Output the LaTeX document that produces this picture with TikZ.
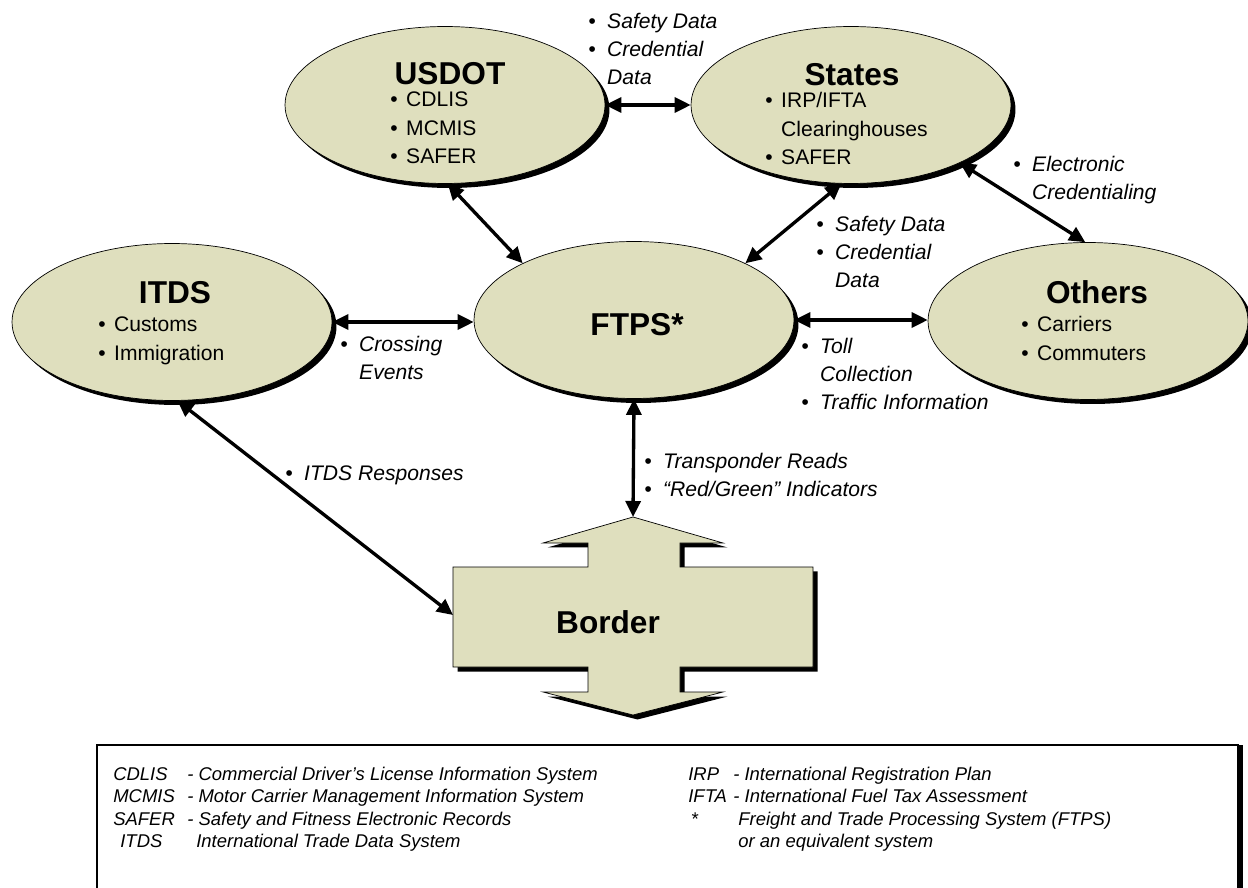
\documentclass[tikz,border=0pt]{standalone}
\usepackage{fontspec}
\setmainfont{Liberation Sans}
\usetikzlibrary{shapes.geometric,arrows.meta,shadows}
\definecolor{hubfill}{RGB}{223,223,190}

\begin{document}
\begin{tikzpicture}
    [ x=0.02cm, y=-0.02cm
    , hub/.style={ellipse, draw, fill=hubfill, minimum width=6.4cm, minimum height=3.14cm, inner sep=0pt,
        drop shadow={shadow xshift=0.9mm, shadow yshift=-0.9mm, fill=black, opacity=1}}
    , hubtitle/.style={font=\fontsize{18}{21}\selectfont\bfseries}
    , items/.style={anchor=base west, inner sep=0pt, font=\fontsize{12}{16.2}\selectfont}
    , note/.style={anchor=base west, inner sep=0pt, font=\fontsize{12}{15.9}\selectfont\itshape}
    , keytext/.style={anchor=base west, inner sep=0pt, font=\fontsize{10.5}{12.9}\selectfont\itshape}
    , link/.style={{Triangle[length=3.2mm,width=3mm]}-{Triangle[length=3.2mm,width=3mm]}, line width=1.9pt}
    ]
\useasboundingbox (0,0) rectangle (1248,888);

% the five systems
\node[hub] (usdot)  at (445,105) {};
\node[hub] (states) at (851,105) {};
\node[hub] (itds)   at (172,322) {};
\node[hub] (ftps)   at (634,320) {};
\node[hub] (others) at (1088,321) {};

\node[hubtitle] (usdottitle)  at (450,74)  {USDOT};
\node[hubtitle] (statestitle) at (852,75)  {States};
\node[hubtitle] (itdstitle)   at (175,293) {ITDS};
\node[hubtitle] (ftpstitle)   at (637,325) {FTPS*};
\node[hubtitle] (otherstitle) at (1097,292) {Others};

\node[items] (usdotlist) at (390,107) {\begin{tabular}[t]{@{}l@{\hspace{0.17cm}}l@{}}
    \textbullet & CDLIS\\ \textbullet & MCMIS\\ \textbullet & SAFER\end{tabular}};
\node[items] (stateslist) at (765,108) {\begin{tabular}[t]{@{}l@{\hspace{0.17cm}}l@{}}
    \textbullet & IRP/IFTA\\ & Clearinghouses\\ \textbullet & SAFER\end{tabular}};
\node[items] (itdslist) at (98,332) {\begin{tabular}[t]{@{}l@{\hspace{0.17cm}}l@{}}
    \textbullet & Customs\\ \textbullet & Immigration\end{tabular}};
\node[items] (otherslist) at (1021,332) {\begin{tabular}[t]{@{}l@{\hspace{0.17cm}}l@{}}
    \textbullet & Carriers\\ \textbullet & Commuters\end{tabular}};

% border crossing
\draw[fill=hubfill, drop shadow={shadow xshift=0.9mm, shadow yshift=-0.9mm, fill=black, opacity=1}]
    (633,517) -- (723,543) -- (680,543) -- (680,567) -- (813,567) -- (813,667) -- (680,667)
    -- (680,692) -- (723,692) -- (633,715) -- (543,692) -- (588,692) -- (588,667) -- (453,667)
    -- (453,567) -- (588,567) -- (588,543) -- (543,543) -- cycle;
\node[hubtitle] (border) at (608,622) {Border};
\coordinate (bordertip) at (633,517);
\coordinate (borderside) at (453,615);

% links
\draw[link] (usdot.east) -- (states.west);
\draw[link] (usdot.-88) -- (ftps.153);
\draw[link] (states.263) -- (ftps.27);
\draw[link] (states.-28) -- (others.92);
\draw[link] (itds.east) -- (itds.east -| ftps.west);
\draw[link] (ftps.east) -- (ftps.east -| others.west);
\draw[link] (ftps.south) -- (bordertip);
\draw[link] (itds.-86) -- (borderside);

\node[note] (topdata) at (588,29) {\begin{tabular}[t]{@{}l@{\hspace{0.23cm}}l@{}}
    \textbullet & Safety Data\\ \textbullet & Credential\\ & Data\end{tabular}};
\node[note] (crossing) at (340,352) {\begin{tabular}[t]{@{}l@{\hspace{0.23cm}}l@{}}
    \textbullet & Crossing\\ & Events\end{tabular}};
\node[note] (statedata) at (816,232) {\begin{tabular}[t]{@{}l@{\hspace{0.23cm}}l@{}}
    \textbullet & Safety Data\\ \textbullet & Credential\\ & Data\end{tabular}};
\node[note] (ecred) at (1013,172) {\begin{tabular}[t]{@{}l@{\hspace{0.23cm}}l@{}}
    \textbullet & Electronic\\ & Credentialing\end{tabular}};
\node[note] (toll) at (801,354) {\begin{tabular}[t]{@{}l@{\hspace{0.23cm}}l@{}}
    \textbullet & Toll\\ & Collection\\ \textbullet & Traffic Information\end{tabular}};
\node[note] (reads) at (644,469) {\begin{tabular}[t]{@{}l@{\hspace{0.23cm}}l@{}}
    \textbullet & Transponder Reads\\ \textbullet & ``Red/Green'' Indicators\end{tabular}};
\node[note] (responses) at (285,480) {\begin{tabular}[t]{@{}l@{\hspace{0.23cm}}l@{}}
    \textbullet & ITDS Responses\end{tabular}};

% legend
\draw[line width=1.2pt, fill=white, drop shadow={shadow xshift=1mm, shadow yshift=0mm, fill=black, opacity=1}]
    (97,745) rectangle (1238,900);
\node[keytext] (keyleft) at (113,780) {\begin{tabular}[t]{@{}p{1.48cm}@{}l@{}}
    CDLIS & - Commercial Driver's License Information System\\
    MCMIS & - Motor Carrier Management Information System\\
    SAFER & - Safety and Fitness Electronic Records\\
    \hspace{0.14cm}ITDS & \hspace{0.18cm}International Trade Data System\end{tabular}};
\node[keytext] (keyright) at (688,780) {\begin{tabular}[t]{@{}p{0.9cm}@{}l@{}}
    IRP & - International Registration Plan\\
    IFTA & - International Fuel Tax Assessment\\
    \relax\hspace{0.05cm}* & \hspace{0.1cm}Freight and Trade Processing System (FTPS)\\
    & \hspace{0.1cm}or an equivalent system\end{tabular}};
\end{tikzpicture}
\end{document}
